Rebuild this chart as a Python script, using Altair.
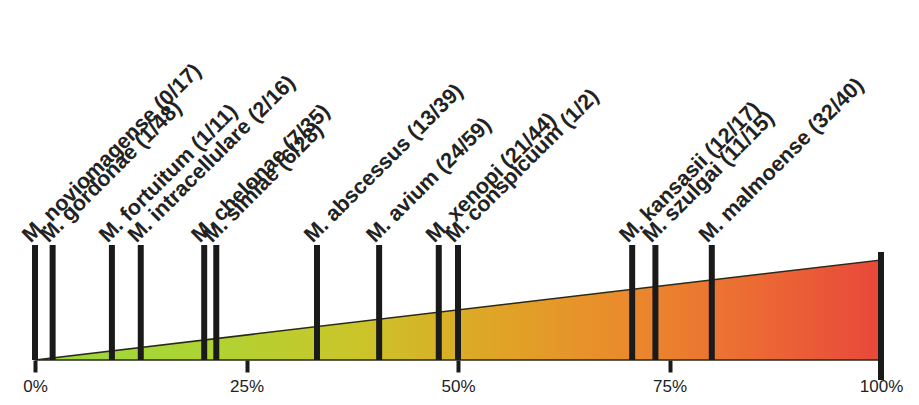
import altair as alt
import pandas as pd

species = ["M. noviomagense", "M. gordonae", "M. fortuitum", "M. intracellulare",
           "M. chelonae", "M. simiae", "M. abscessus", "M. avium", "M. xenopi",
           "M. conspicuum", "M. kansasii", "M. szulgai", "M. malmoense"]
positives = [0, 1, 1, 2, 7, 6, 13, 24, 21, 1, 12, 11, 32]
totals = [17, 48, 11, 16, 35, 28, 39, 59, 44, 2, 17, 15, 40]

tick_values = [0, 0.25, 0.5, 0.75, 1.0]
tri_x = [0.0, 1.0]
tri_y = [0.0, 1.0]
edge_x = [1.0]

bars = pd.DataFrame({
    "species": species,
    "pos": positives,
    "tot": totals,
})
bars["frac"] = bars["pos"] / bars["tot"]
bars["label"] = [f"{s} ({p}/{t})" for s, p, t in zip(species, positives, totals)]
bars["top"] = 1.15
bars["base"] = 0.0

tri = pd.DataFrame({"x": tri_x, "y": tri_y})
edge = pd.DataFrame({"x": edge_x, "y": [1.08], "y2": [-0.2]})

xs = alt.Scale(domain=[0, 1], nice=False)
ys = alt.Scale(domain=[0, 1.2], nice=False)

gradient = alt.Gradient(
    gradient="linear",
    stops=[
        alt.GradientStop(color="#98d840", offset=0),
        alt.GradientStop(color="#aed432", offset=0.2),
        alt.GradientStop(color="#cbc52a", offset=0.38),
        alt.GradientStop(color="#e0a326", offset=0.55),
        alt.GradientStop(color="#ea8a2c", offset=0.7),
        alt.GradientStop(color="#ec6a34", offset=0.85),
        alt.GradientStop(color="#e8483a", offset=1),
    ],
    x1=0, x2=1, y1=0, y2=0,
)

area = alt.Chart(tri).mark_area(
    color=gradient, stroke="#2a2a1a", strokeWidth=1.5, line=False
).encode(
    x=alt.X("x:Q", scale=xs, axis=alt.Axis(
        values=tick_values, format=".0%", title=None, grid=False, domain=False,
        tickSize=12, tickWidth=4, tickColor="#1a1a1a",
        labelFontSize=17, labelColor="#222222", labelFont="Liberation Sans",
        labelPadding=6, labelFlush=False)),
    y=alt.Y("y:Q", scale=ys, axis=None),
    y2=alt.datum(0),
)

edge_rule = alt.Chart(edge).mark_rule(strokeWidth=6, color="#1a1a1a").encode(
    x=alt.X("x:Q", scale=xs),
    y=alt.Y("y:Q", scale=ys),
    y2="y2:Q",
)

rules = alt.Chart(bars).mark_rule(strokeWidth=6, color="#1a1a1a").encode(
    x=alt.X("frac:Q", scale=xs),
    y=alt.Y("base:Q", scale=ys),
    y2="top:Q",
)

labels = alt.Chart(bars).mark_text(
    angle=315, align="left", baseline="alphabetic", fontSize=21.5,
    fontWeight="bold", font="Liberation Sans", color="#222222",
    dx=-2, dy=-4,
).encode(
    x=alt.X("frac:Q", scale=xs),
    y=alt.Y("top:Q", scale=ys),
    text="label:N",
)

chart = alt.layer(area, rules, edge_rule, labels).properties(
    width=846, height=120,
    autosize=alt.AutoSizeParams(type="none"),
    padding={"left": 27, "top": 232, "right": 30, "bottom": 37},
).configure(background="white").configure_view(stroke=None, strokeWidth=0)

chart.save("out.html", embed_options={"renderer": "svg", "actions": False})
